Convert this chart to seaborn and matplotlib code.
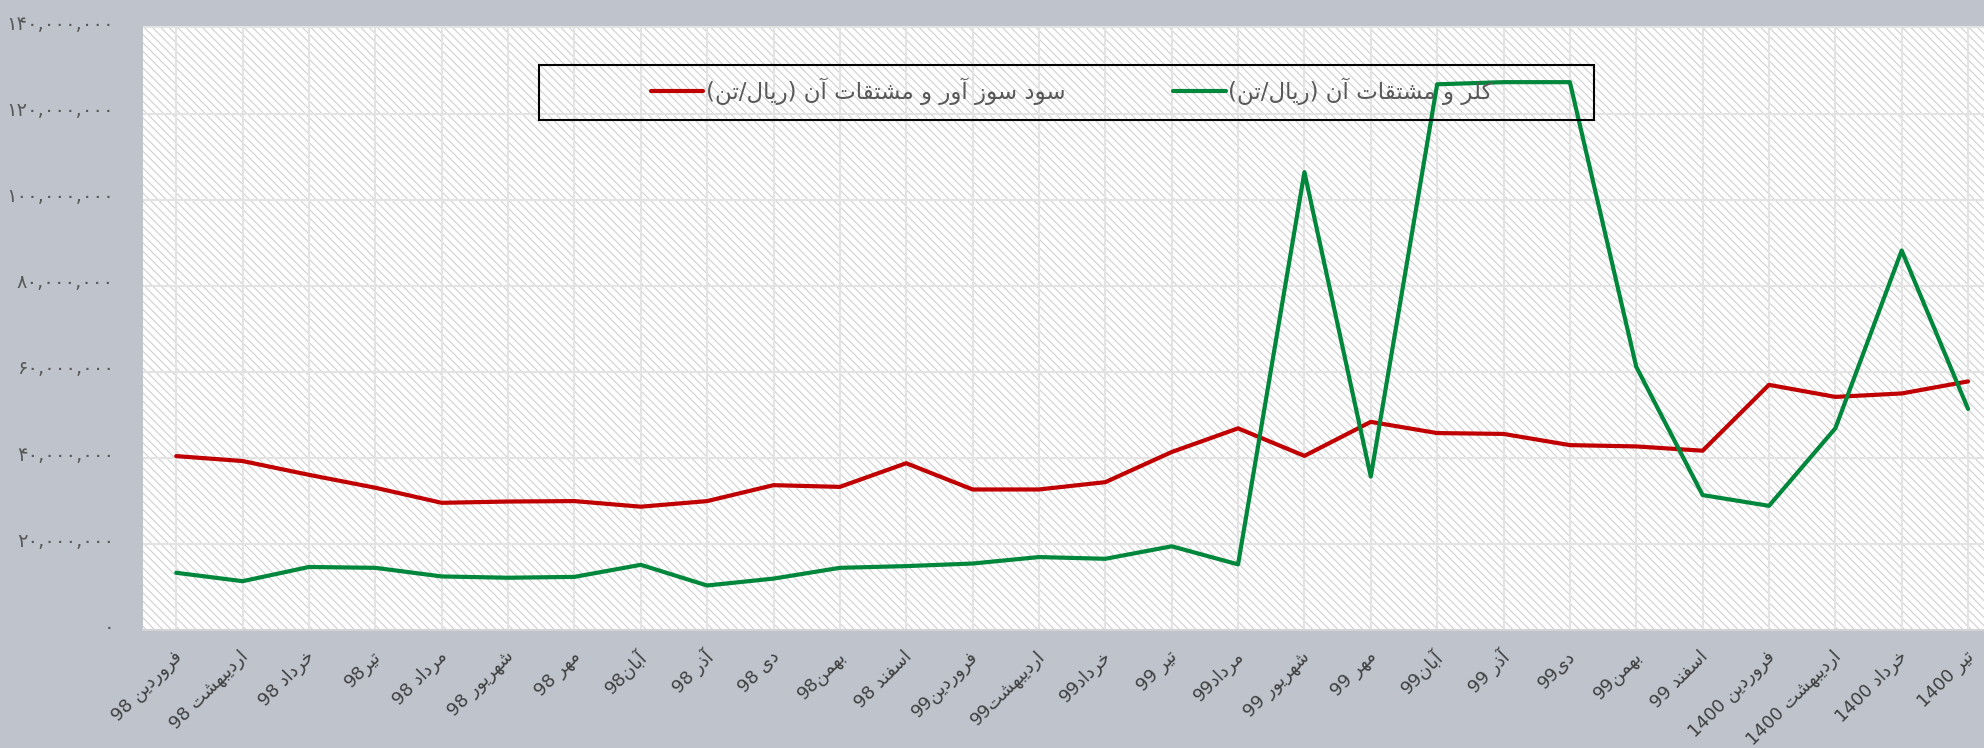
"""
Persian price chart: caustic soda vs chlorine (rial/ton), monthly 98-1400
"""
import matplotlib
matplotlib.use('Agg')
import matplotlib.pyplot as plt
import matplotlib.transforms as mtransforms
from matplotlib.patches import Rectangle
from matplotlib.ticker import FuncFormatter, MultipleLocator
import seaborn as sns
import pandas as pd

# ---- data ----
months = [
    'فروردین 98', 'اردیبهشت 98', 'خرداد 98', 'تیر98', 'مرداد 98', 'شهریور 98',
    'مهر 98', 'آبان98', 'آذر 98', 'دی 98', 'بهمن98', 'اسفند 98',
    'فروردین99', 'اردیبهشت99', 'خرداد99', 'تیر 99', 'مرداد99', 'شهریور 99',
    'مهر 99', 'آبان99', 'آذر 99', 'دی99', 'بهمن99', 'اسفند 99',
    'فروردین 1400', 'اردیبهشت 1400', 'خرداد 1400', 'تیر 1400',
]
caustic_soda = [40450000, 39300000, 36100000, 33100000, 29600000, 29900000,
                30000000, 28700000, 30000000, 33700000, 33300000, 38800000,
                32700000, 32700000, 34400000, 41400000, 46900000, 40500000,
                48400000, 45800000, 45600000, 43000000, 42700000, 41700000,
                57000000, 54200000, 55000000, 57800000]
chlorine = [13350000, 11400000, 14700000, 14500000, 12500000, 12200000,
            12400000, 15200000, 10400000, 12000000, 14500000, 14900000,
            15500000, 17000000, 16600000, 19500000, 15300000, 106400000,
            35700000, 126800000, 127300000, 127300000, 61200000, 31400000,
            28900000, 46900000, 88200000, 51400000]
label_soda = 'سود سوز آور و مشتقات آن (ریال/تن)'
label_chlorine = 'کلر و مشتقات آن (ریال/تن)'

# ---- minimal Persian shaping + RTL reorder (matplotlib has no shaping) ----
FORMS = {
    'ا': ('\uFE8D', '\uFE8E', None, None),
    'آ': ('\uFE81', '\uFE82', None, None),
    'ب': ('\uFE8F', '\uFE90', '\uFE91', '\uFE92'),
    'ت': ('\uFE95', '\uFE96', '\uFE97', '\uFE98'),
    'خ': ('\uFEA5', '\uFEA6', '\uFEA7', '\uFEA8'),
    'د': ('\uFEA9', '\uFEAA', None, None),
    'ذ': ('\uFEAB', '\uFEAC', None, None),
    'ر': ('\uFEAD', '\uFEAE', None, None),
    'ز': ('\uFEAF', '\uFEB0', None, None),
    'س': ('\uFEB1', '\uFEB2', '\uFEB3', '\uFEB4'),
    'ش': ('\uFEB5', '\uFEB6', '\uFEB7', '\uFEB8'),
    'ف': ('\uFED1', '\uFED2', '\uFED3', '\uFED4'),
    'ق': ('\uFED5', '\uFED6', '\uFED7', '\uFED8'),
    'ل': ('\uFEDD', '\uFEDE', '\uFEDF', '\uFEE0'),
    'م': ('\uFEE1', '\uFEE2', '\uFEE3', '\uFEE4'),
    'ن': ('\uFEE5', '\uFEE6', '\uFEE7', '\uFEE8'),
    'ه': ('\uFEE9', '\uFEEA', '\uFEEB', '\uFEEC'),
    'و': ('\uFEED', '\uFEEE', None, None),
    '\u06CC': ('\uFBFC', '\uFBFD', '\uFBFE', '\uFBFF'),
    '\u06A9': ('\uFB8E', '\uFB8F', '\uFB90', '\uFB91'),
}


def fa(text):
    """Return a visually ordered, shaped version of a Persian string"""
    text = text.replace('\u064A', '\u06CC').replace('\u0643', '\u06A9')
    glyphs = []
    for i, ch in enumerate(text):
        f = FORMS.get(ch)
        if f is None:
            glyphs.append(ch)
            continue
        prev = text[i - 1] if i > 0 else ''
        nxt = text[i + 1] if i < len(text) - 1 else ''
        join_prev = prev in FORMS and FORMS[prev][2] is not None
        join_next = nxt in FORMS and f[2] is not None
        if join_prev and join_next:
            glyphs.append(f[3])
        elif join_prev:
            glyphs.append(f[1])
        elif join_next:
            glyphs.append(f[2])
        else:
            glyphs.append(f[0])
    tokens = []
    for g in glyphs:
        if g.isascii() and g.isdigit() and tokens and tokens[-1].isascii() and tokens[-1].isdigit():
            tokens[-1] += g
        else:
            tokens.append(g)
    mirror = {'(': ')', ')': '('}
    return ''.join(mirror.get(t, t) for t in reversed(tokens))


FA_DIGITS = str.maketrans('0123456789', '\u06F0\u06F1\u06F2\u06F3\u06F4\u06F5\u06F6\u06F7\u06F8\u06F9')

# ---- style ----
sns.set_style('white')
plt.rcParams['font.family'] = ['DejaVu Sans']
plt.rcParams['hatch.linewidth'] = 0.8

fig = plt.figure(figsize=(19.84, 7.48), dpi=100, facecolor='#bec3cc')
ax = fig.add_axes([0.0721, 0.1574, 0.9279, 0.8076])
ax.set_facecolor('white')

# hatched plot area
ax.add_patch(Rectangle((0, 0), 1, 1, transform=ax.transAxes, facecolor='white',
                       edgecolor='#cfcfcf', hatch='\\\\\\\\', lw=0, zorder=0))

df = pd.DataFrame({'idx': range(len(months)), 'soda': caustic_soda, 'chlorine': chlorine})
sns.lineplot(data=df, x='idx', y='soda', ax=ax, color='#c00000', linewidth=3,
             label=fa(label_soda), zorder=3)
sns.lineplot(data=df, x='idx', y='chlorine', ax=ax, color='#00873c', linewidth=3,
             label=fa(label_chlorine), zorder=3)

ax.set_xlim(-0.5, 27.24)
ax.set_ylim(0, 140300000)
ax.yaxis.set_major_locator(MultipleLocator(20000000))
ax.yaxis.set_major_formatter(FuncFormatter(lambda v, p: f'{v:,.0f}'.translate(FA_DIGITS)))
ax.set_xticks(range(len(months)))
ax.tick_params(axis='y', length=0, pad=21, labelsize=14, labelcolor='#595959')
ax.tick_params(axis='x', length=0, pad=4)
ax.set_xticklabels([fa(m) for m in months], rotation=45, ha='right', va='center',
                   rotation_mode='anchor', fontsize=13, color='#404040')
ax.set_xlabel('')
ax.set_ylabel('')

# nudge tick labels (after tick_params, which would reset the transforms)
x_offset = mtransforms.ScaledTranslation(0.03, -0.18, fig.dpi_scale_trans)
for lbl in ax.get_xticklabels():
    lbl.set_transform(lbl.get_transform() + x_offset)
y_offset = mtransforms.ScaledTranslation(0, 0.05, fig.dpi_scale_trans)
for lbl in ax.get_yticklabels():
    lbl.set_transform(lbl.get_transform() + y_offset)

ax.grid(True, color='#e3e3e3', linewidth=1.5)
ax.set_axisbelow(True)
for side in ['top', 'right', 'left']:
    ax.spines[side].set_visible(False)
ax.spines['bottom'].set_color('#d3d3d3')
ax.spines['bottom'].set_linewidth(1.5)

# legend: frameless, with a separate black box around it
leg = ax.legend(loc='center', bbox_to_anchor=(0.5044, 0.893), ncol=2, frameon=False,
                fontsize=16.5, handlelength=2.3, handletextpad=0.1, columnspacing=4.7)
for t in leg.get_texts():
    t.set_color('#595959')
ax.add_patch(Rectangle((0.215, 0.845), 0.573, 0.091, transform=ax.transAxes,
                       fill=False, edgecolor='black', linewidth=1.5, zorder=6))

plt.savefig('out.png', dpi=100, facecolor=fig.get_facecolor())
plt.close(fig)
